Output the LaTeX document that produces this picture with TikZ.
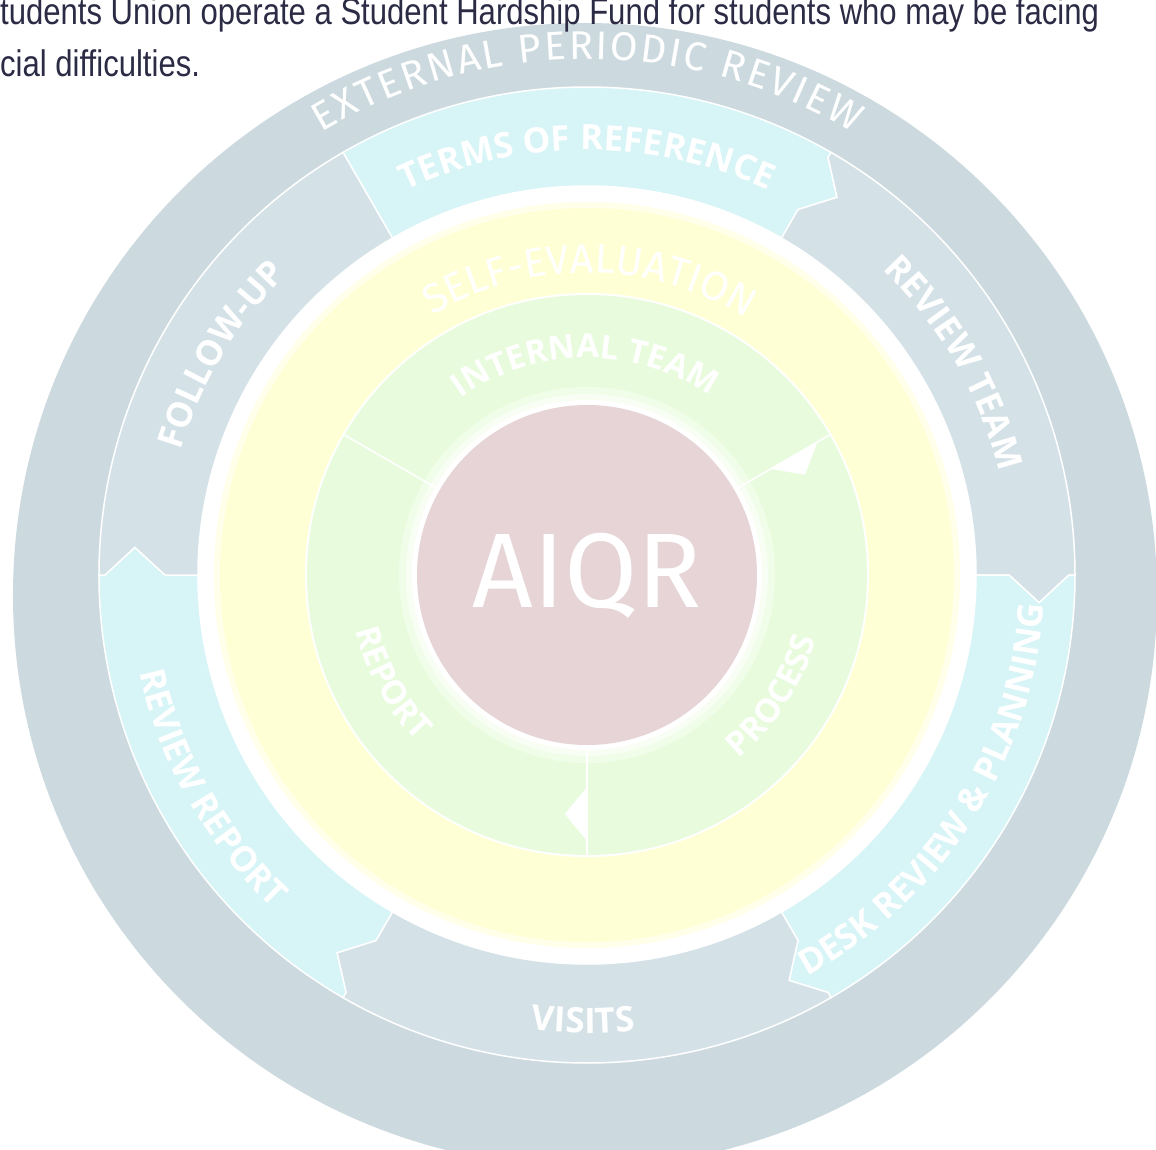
\documentclass[tikz,border=0pt]{standalone}
\usepackage{xcolor}
\usepackage{graphicx}
\usepackage{fontspec}
\usepackage{tikz}
\usetikzlibrary{decorations.text,positioning}
\setmainfont{Liberation Sans}
\newfontfamily\ringfont{Open Sans}
\newfontfamily\thinfont{Fira Sans}
\definecolor{OuterRing}{HTML}{CCDADF}
\definecolor{SegGray}{HTML}{D4E2E8}
\definecolor{SegCyan}{HTML}{D7F4F6}
\definecolor{SelfYellow}{HTML}{FFFFD6}
\definecolor{TeamGreen}{HTML}{E8FCDD}
\definecolor{CorePink}{HTML}{E6D4D7}
\definecolor{BodyNavy}{HTML}{2B2B45}
\newcommand\bandfont{\ringfont\bfseries\fontsize{35}{35}\selectfont}
\newcommand\teamfont{\ringfont\bfseries\fontsize{33}{33}\selectfont}
\newcommand\outerfont{\thinfont\fontsize{40}{40}\selectfont}
\newcommand\selffont{\thinfont\fontsize{41}{41}\selectfont}
\tikzset{
  % Review segment
  SG/.style={draw=white,line width=1.5pt,line join=miter},
  % Divider and arrow flag
  DV/.style={white,line width=1.6pt},
  FL/.style={fill=white},
  % Text along an arc
  AL/.style={decorate,decoration={text along path,text align=center,text color=white,text={#1}}},
  AF/.style={decorate,decoration={text along path,text align=fit to path,text color=white,text={#1}}},
  % Page text
  PT/.style={inner sep=0pt,anchor=base west,text=BodyNavy,font=\fontsize{37}{37}\selectfont}
}

\begin{document}
\begin{tikzpicture}[x=1pt,y=1pt]
  \useasboundingbox (-587,-574) rectangle (569,575);
  \clip (-587,-574) rectangle (569,575);
  \fill[white] (-587,-574) rectangle (569,575);
  \fill[OuterRing] (-2,-20) circle[radius=572];

  \foreach \lo/\hi/\col/\dlo/\dhi in {60/120/SegCyan/3.5/0, 0/60/SegGray/3.5/3.5, -60/0/SegCyan/3.5/3.5,
      -120/-60/SegGray/3.5/3.5, 180/240/SegCyan/3.5/3.5, 120/180/SegGray/0/3.5}
    \filldraw[SG,fill=\col] (\hi:488) arc[start angle=\hi,end angle=\lo,radius=488]
      -- (\lo:482) -- ({\lo-\dlo}:453) -- (\lo:422) -- (\lo:389)
      arc[start angle=\lo,end angle=\hi,radius=389]
      -- (\hi:422) -- ({\hi-\dhi}:453) -- (\hi:482) -- cycle;

  \fill[white] (0,0) circle[radius=389];
  \fill[SelfYellow] (0,0) circle[radius=373];
  \fill[white,opacity=.5] (0,0) circle[radius=373];
  \fill[SelfYellow] (0,0) circle[radius=367];
  \fill[white] (0,0) circle[radius=282];
  \fill[TeamGreen] (0,0) circle[radius=280];
  \foreach \a in {150,30,-90}
    \draw[DV] (\a:172) -- (\a:280);
  \foreach \a in {30,-90}
    \fill[FL] (\a:212) -- ({\a-5.3}:240) -- (\a:266) -- cycle;
  \fill[white,opacity=.35] (0,0) circle[radius=188];
  \fill[white,opacity=.6] (0,0) circle[radius=181];
  \fill[white] (0,0) circle[radius=175];
  \node[circle,fill=CorePink,minimum size=340pt,inner sep=0pt] (core) at (0,0) {};
  \node[anchor=base,inner sep=0pt,text=white,font=\thinfont\fontsize{106}{106}\selectfont] (aiqr) at (0,-32) {AIQR};

  \path[AF={|\outerfont|EXTERNAL PERIODIC REVIEW}] (121:516) arc[start angle=121,end angle=59,radius=516];
  \path[AL={|\bandfont|TERMS OF REFERENCE}] (130:425) arc[start angle=130,end angle=50,radius=425];
  \path[AL={|\bandfont|REVIEW TEAM}] (60:425) arc[start angle=60,end angle=0,radius=425];
  \path[AL={|\bandfont|FOLLOW-UP}] (180:425) arc[start angle=180,end angle=118,radius=425];
  \path[AL={|\bandfont|DESK REVIEW {\&} PLANNING}] (-72:458) arc[start angle=-72,end angle=7,radius=458];
  \path[AL={|\bandfont|VISITS}] (-120:458) arc[start angle=-120,end angle=-61,radius=458];
  \path[AL={|\bandfont|REVIEW REPORT}] (175:458) arc[start angle=175,end angle=244,radius=458];
  \path[AL={|\selffont|SELF-EVALUATION}] (140:302) arc[start angle=140,end angle=39,radius=302];
  \path[AL={|\teamfont|INTERNAL TEAM}] (135:217) arc[start angle=135,end angle=46,radius=217];
  \path[AL={|\teamfont|REPORT}] (170:238) arc[start angle=170,end angle=248,radius=238];
  \path[AL={|\teamfont|PROCESS}] (-75:238) arc[start angle=-75,end angle=9,radius=238];

  \node[PT] (line1) at (-587,550) {\scalebox{0.84}[1]{tudents Union operate a Student Hardship Fund for students who may be facing}};
  \node[PT] (line2) at ([yshift=-52pt]line1.base west) {\scalebox{0.84}[1]{cial difficulties.}};
\end{tikzpicture}
\end{document}
